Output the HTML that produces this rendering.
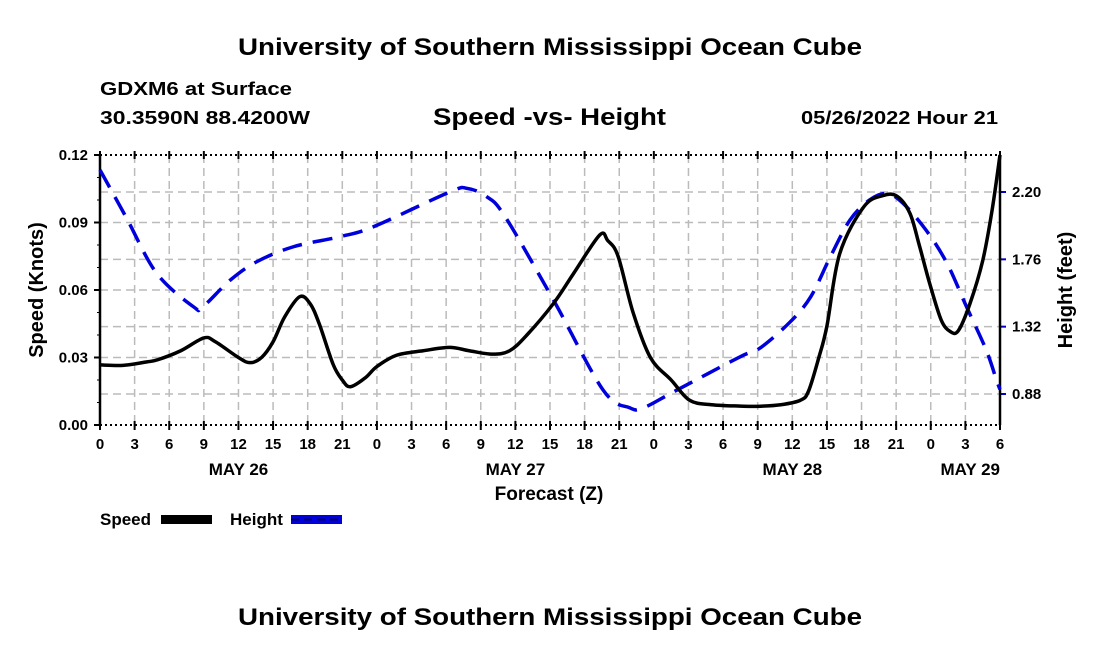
<!DOCTYPE html>
<html><head><meta charset="utf-8"><style>
html,body{margin:0;padding:0;background:#fff;}
svg{display:block;font-family:"Liberation Sans",sans-serif;font-weight:bold;}
</style></head><body>
<svg id="chart" width="1100" height="650" viewBox="0 0 1100 650" xmlns="http://www.w3.org/2000/svg">
<text x="238" y="55" font-size="24" textLength="624" lengthAdjust="spacingAndGlyphs">University of Southern Mississippi Ocean Cube</text>
<text x="100" y="95" font-size="18" textLength="192" lengthAdjust="spacingAndGlyphs">GDXM6 at Surface</text>
<text x="100" y="124" font-size="18" textLength="210" lengthAdjust="spacingAndGlyphs">30.3590N  88.4200W</text>
<text x="433" y="125" font-size="24" textLength="233" lengthAdjust="spacingAndGlyphs">Speed -vs- Height</text>
<text x="801" y="124" font-size="18" textLength="197" lengthAdjust="spacingAndGlyphs">05/26/2022 Hour 21</text>
<g id="grid"></g>
<g id="axes"></g>
<g id="series"></g>
<text transform="translate(43,290) rotate(-90)" text-anchor="middle" font-size="20">Speed (Knots)</text>
<text transform="translate(1072,290) rotate(-90)" text-anchor="middle" font-size="20">Height (feet)</text>
<text x="549" y="500" text-anchor="middle" font-size="19">Forecast (Z)</text>
<g>
<text x="100" y="525" font-size="17">Speed</text>
<rect x="161" y="515" width="51" height="9" fill="#000"/>
<text x="230" y="525" font-size="17">Height</text>
<rect x="291" y="515" width="51" height="9" fill="#0000dd"/>
<line x1="291" y1="519.5" x2="342" y2="519.5" stroke="#000" stroke-width="1.5" stroke-dasharray="8,5"/>
</g>
<text x="238" y="625" font-size="24" textLength="624" lengthAdjust="spacingAndGlyphs">University of Southern Mississippi Ocean Cube</text>
</svg>
<script>
const speedHours=[0,2,4,5,7,9,10,12,13,14,15,16,17.3,18.2,19,20.2,21,21.7,23,24,25.7,28,30.3,32,34,35.5,37,39.3,41,43.3,44,44.9,46.2,47.7,49.5,51.1,53,55.5,57,59,60.7,61.4,62.3,63,64.1,66.2,67.9,69.1,70.2,71,71.9,72.9,73.7,74.4,75.4,76.5,77.3,78];
const speedValues=[0.0267,0.0265,0.028,0.029,0.033,0.0387,0.037,0.030,0.0277,0.030,0.037,0.048,0.057,0.054,0.045,0.027,0.020,0.017,0.021,0.026,0.031,0.033,0.0345,0.033,0.0315,0.033,0.040,0.054,0.067,0.0844,0.082,0.075,0.050,0.030,0.020,0.011,0.009,0.0084,0.0083,0.009,0.011,0.015,0.030,0.044,0.076,0.097,0.102,0.1016,0.094,0.080,0.063,0.0467,0.0415,0.042,0.054,0.073,0.095,0.12];
const heightHours=[0,2.3,4.9,8.1,8.9,11.3,13.6,16.8,20.8,23.7,30.3,31.8,33.5,35.1,39.3,43.6,45.9,47.1,50,55.5,57.2,59.8,61.6,63.3,65,66.7,68.2,69.6,71.6,73.4,75.1,76.8,77.7,78];
const heightValues=[2.344,2.03,1.67,1.45,1.45,1.625,1.745,1.843,1.908,1.973,2.20,2.224,2.17,2.04,1.494,0.906,0.79,0.79,0.906,1.124,1.18,1.35,1.516,1.777,2.017,2.148,2.19,2.126,1.95,1.735,1.45,1.168,0.97,0.91];
const hourTickLabels=["0","3","6","9","12","15","18","21","0","3","6","9","12","15","18","21","0","3","6","9","12","15","18","21","0","3","6"];
const dayLabels=["MAY 26","MAY 27","MAY 28","MAY 29"];
const dayLabelHours=[12,36,60,72];
const leftTickValues=[0,0.03,0.06,0.09,0.12];
const leftTickLabels=["0.00","0.03","0.06","0.09","0.12"];
const rightTickValues=[0.88,1.32,1.76,2.20];
const rightTickLabels=["0.88","1.32","1.76","2.20"];

const X0=100,X1=1000,Y0=425,Y1=155,HMAX=78;
const xs=h=>X0+(X1-X0)*h/HMAX;
const ys=v=>Y0-(Y0-Y1)*v/0.12;
const yh=f=>394-(f-0.88)*(202/1.32);
const NS="http://www.w3.org/2000/svg";
function mk(tag,attrs,parent){const e=document.createElementNS(NS,tag);for(const k in attrs)e.setAttribute(k,attrs[k]);parent.appendChild(e);return e;}
const grid=document.getElementById('grid'),axes=document.getElementById('axes'),series=document.getElementById('series');
hourTickLabels.forEach((lab,i)=>{const x=xs(i*3);
 if(i>0&&i<hourTickLabels.length-1){const l=mk('line',{x1:x,y1:Y1,x2:x,y2:Y0,stroke:'#bbb','stroke-width':1.5,'stroke-dasharray':'8,5'},grid);
 
 }
 const t=mk('line',{x1:x,y1:Y0-4,x2:x,y2:Y0+5,stroke:'#000','stroke-width':2},axes);
 
 
 const tt=mk('line',{x1:x,y1:Y1-4,x2:x,y2:Y1+4,stroke:'#000','stroke-width':2},axes);
 
 
 const tx=mk('text',{x:x,y:449,'text-anchor':'middle','font-size':15},axes);tx.textContent=lab;
 
 
});
dayLabels.forEach((d,i)=>{const h=dayLabelHours[i];const x=i===3?X1:xs(h);
 const t=mk('text',{x:x,y:475,'text-anchor':i===3?'end':'middle','font-size':17},axes);t.textContent=d;
 
 });
leftTickValues.forEach((v,i)=>{const y=ys(v);
 if(i>0&&i<leftTickValues.length-1){const l=mk('line',{x1:X0,y1:y,x2:X1,y2:y,stroke:'#bbb','stroke-width':1.5,'stroke-dasharray':'8,5'},grid);
 
 }
 const t=mk('line',{x1:X0-6,y1:y,x2:X0,y2:y,stroke:'#000','stroke-width':2},axes);
 
 
 const tx=mk('text',{x:88,y:y+5,'text-anchor':'end','font-size':15},axes);tx.textContent=leftTickLabels[i];
 
 });
for(let v=0.01;v<0.12;v+=0.01){const y=ys(v);const t=mk('line',{x1:X0-3,y1:y,x2:X0,y2:y,stroke:'#000','stroke-width':1},axes);
 
 }
rightTickValues.forEach((v,i)=>{const y=yh(v);
 const l=mk('line',{x1:X0,y1:y,x2:X1,y2:y,stroke:'#bbb','stroke-width':1.5,'stroke-dasharray':'8,5'},grid);
 
 
 const t=mk('line',{x1:X1,y1:y,x2:X1+6,y2:y,stroke:'#0000cc','stroke-width':2},axes);
 
 
 const tx=mk('text',{x:1012,y:y+5,'font-size':15},axes);tx.textContent=rightTickLabels[i];
 
 });
const fl=mk('line',{x1:X0,y1:Y1,x2:X0,y2:Y0,stroke:'#000','stroke-width':2.5},axes);


const fr=mk('line',{x1:X1,y1:Y1,x2:X1,y2:Y0,stroke:'#000','stroke-width':2.5},axes);


const ft=mk('line',{x1:X0,y1:Y1,x2:X1,y2:Y1,stroke:'#000','stroke-width':2,'stroke-dasharray':'2,3'},axes);


const fb=mk('line',{x1:X0,y1:Y0,x2:X1,y2:Y0,stroke:'#000','stroke-width':2,'stroke-dasharray':'2,3'},axes);


function smooth(pts){let d='M'+pts[0][0]+','+pts[0][1];
 for(let i=0;i<pts.length-1;i++){const p0=pts[Math.max(0,i-1)],p1=pts[i],p2=pts[i+1],p3=pts[Math.min(pts.length-1,i+2)];
 const c1x=p1[0]+(p2[0]-p0[0])/6,c1y=p1[1]+(p2[1]-p0[1])/6,c2x=p2[0]-(p3[0]-p1[0])/6,c2y=p2[1]-(p3[1]-p1[1])/6;
 d+=` C${c1x},${c1y} ${c2x},${c2y} ${p2[0]},${p2[1]}`;}return d;}
const hp=mk('path',{d:smooth(heightHours.map((h,i)=>[xs(h),yh(heightValues[i])])),fill:'none',stroke:'#0000dd','stroke-width':3.5,'stroke-dasharray':'20,11'},series);


const sp=mk('path',{d:smooth(speedHours.map((h,i)=>[xs(h),ys(speedValues[i])])),fill:'none',stroke:'#000','stroke-width':3.5,'stroke-linejoin':'round'},series);


</script>
</body></html>
